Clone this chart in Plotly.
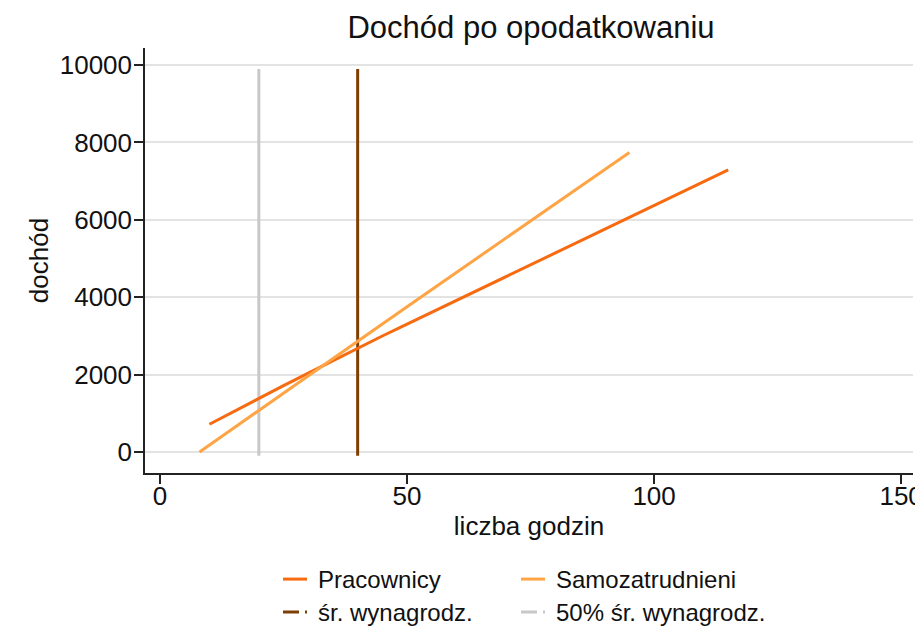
import plotly.graph_objects as go

# ---- data ----
hours_prac = [10, 15, 20, 25, 30, 35, 40, 45, 50, 55, 60, 65, 70, 75, 80, 85, 90, 95, 100, 105, 110, 115]
income_prac = [716, 1053, 1390, 1715, 2040, 2365, 2690, 2997, 3303, 3610, 3917, 4223, 4530, 4837,
               5143, 5450, 5757, 6063, 6370, 6677, 6983, 7290]

hours_samo = [8, 10, 15, 20, 25, 30, 35, 40, 45, 50, 55, 60, 65, 70, 75, 80, 85, 90, 95]
income_samo = [0, 180, 625, 1070, 1520, 1970, 2420, 2870, 3310, 3755, 4200, 4640, 5085, 5530,
               5970, 6415, 6855, 7300, 7740]

avg_wage_hours = [40, 40]
half_wage_hours = [20, 20]
vline_income = [-100, 9900]

x_ticks = [0, 50, 100, 150]
y_ticks = [0, 2000, 4000, 6000, 8000, 10000]
y_tick_text = ["0", "2000", "4000", "6000", "8000", "10000"]

title_text = "Dochód po opodatkowaniu"
x_title = "liczba godzin"
y_title = "dochód"
names = ["Pracownicy", "Samozatrudnieni", "śr. wynagrodz.", "50% śr. wynagrodz."]

# ---- styles ----
C_PRAC = "#F76A10"
C_SAMO = "#FFA445"
C_AVG = "#7E3F05"
C_HALF = "#C8C8C8"
FONT = "Arial, Liberation Sans, sans-serif"
TXT = "#111111"

# page body has an 8px margin, so the figure is drawn 8px smaller and offset
W, H = 915, 621

fig = go.Figure()

fig.add_trace(go.Scatter(x=half_wage_hours, y=vline_income, mode="lines",
                         line=dict(color=C_HALF, width=3), showlegend=False, hoverinfo="skip"))
fig.add_trace(go.Scatter(x=avg_wage_hours, y=vline_income, mode="lines",
                         line=dict(color=C_AVG, width=3), showlegend=False, hoverinfo="skip"))
fig.add_trace(go.Scatter(x=hours_prac, y=income_prac, mode="lines", name=names[0],
                         line=dict(color=C_PRAC, width=3), showlegend=False))
fig.add_trace(go.Scatter(x=hours_samo, y=income_samo, mode="lines", name=names[1],
                         line=dict(color=C_SAMO, width=3), showlegend=False))

SOLID_KEY = "24px,100px"
DASHDOT_KEY = "16px,6px,2px,100px"
legend_keys = [
    (names[0], C_PRAC, SOLID_KEY, "legend"),
    (names[1], C_SAMO, SOLID_KEY, "legend2"),
    (names[2], C_AVG, DASHDOT_KEY, "legend3"),
    (names[3], C_HALF, DASHDOT_KEY, "legend4"),
]
for nm, col, dash, lg in legend_keys:
    fig.add_trace(go.Scatter(x=[None], y=[None], mode="lines", name=nm,
                             line=dict(color=col, width=3, dash=dash), legend=lg))

leg_common = dict(orientation="h", xanchor="left", yanchor="top", xref="paper", yref="paper",
                  font=dict(family=FONT, size=24, color=TXT),
                  bgcolor="rgba(0,0,0,0)", itemwidth=30, tracegroupgap=0)

col1_x = (278 - 145) / 768
col2_x = (516 - 145) / 768
row1_y = (473 - 557) / 425
row2_y = (473 - 590) / 425

fig.update_layout(
    width=W, height=H,
    margin=dict(l=137, r=10, t=40, b=156, autoexpand=False),
    paper_bgcolor="white", plot_bgcolor="white",
    font=dict(family=FONT, size=26, color=TXT),
    title=dict(text=title_text, x=523 / W, xanchor="center",
               y=1 - 19 / H, yanchor="middle", yref="container",
               font=dict(family=FONT, size=31, color=TXT)),
    xaxis=dict(range=[-3.04, 152.4], tickvals=x_ticks, showgrid=False, zeroline=False,
               showline=True, linecolor="#222222", linewidth=1.5, automargin=False,
               ticks="outside", ticklen=9, tickwidth=1.5, tickcolor="#222222",
               ticklabelstandoff=-10,
               tickfont=dict(family=FONT, size=26, color=TXT),
               title=dict(text=x_title, standoff=7, font=dict(family=FONT, size=26, color=TXT))),
    yaxis=dict(range=[-543, 10440], tickvals=y_ticks, ticktext=y_tick_text,
               showgrid=True, gridcolor="#E3E3E3", gridwidth=1.5, automargin=False,
               zeroline=False, showline=True, linecolor="#222222", linewidth=1.5,
               ticks="outside", ticklen=9, tickwidth=1.5, tickcolor="#222222",
               ticklabelstandoff=-3,
               tickfont=dict(family=FONT, size=26, color=TXT),
               title=dict(text=y_title, standoff=4, font=dict(family=FONT, size=26, color=TXT))),
    legend=dict(x=col1_x, y=row1_y, **leg_common),
    legend2=dict(x=col2_x, y=row1_y, **leg_common),
    legend3=dict(x=col1_x, y=row2_y, **leg_common),
    legend4=dict(x=col2_x, y=row2_y, **leg_common),
    showlegend=True,
)

fig.write_html("out.html")
